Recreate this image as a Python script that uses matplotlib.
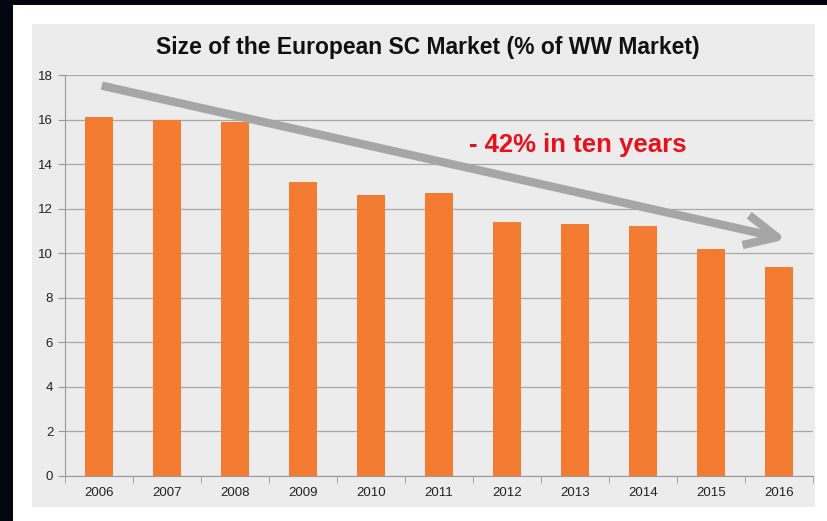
import matplotlib.pyplot as plt
from matplotlib.patches import Rectangle

years = ['2006', '2007', '2008', '2009', '2010', '2011', '2012', '2013', '2014', '2015', '2016']
share = [16.1, 16.0, 15.9, 13.2, 12.6, 12.7, 11.4, 11.3, 11.2, 10.2, 9.4]

plt.rcParams['font.family'] = ['Liberation Sans', 'DejaVu Sans']

W, H = 827, 521
fig = plt.figure(figsize=(W / 100, H / 100), dpi=100)
fig.patch.set_facecolor('#03060f')
# white slide area and gray chart panel
fig.patches.append(Rectangle((13 / W, 0), 1 - 13 / W, 1 - 5 / H, transform=fig.transFigure,
                             facecolor='white', edgecolor='none', zorder=-2))
fig.patches.append(Rectangle((32 / W, 14 / H), 783 / W, 483 / H, transform=fig.transFigure,
                             facecolor='#ececec', edgecolor='none', zorder=-1))

ax = fig.add_axes([65 / W, (H - 476) / H, 748 / W, 401 / H])
ax.set_facecolor('#ececec')
x = list(range(len(years)))
ax.bar(x, share, width=0.4, color='#f47b32', zorder=2)

ax.set_xlim(-0.5, len(years) - 0.5)
ax.set_ylim(0, 18)
ax.set_yticks(range(0, 19, 2))
ax.set_xticks(x)
ax.set_xticklabels(years)
ax.set_xticks([i + 0.5 for i in range(-1, len(years))], minor=True)
ax.tick_params(axis='x', which='major', length=0, labelsize=9.5, pad=8, colors='#222222')
ax.tick_params(axis='x', which='minor', length=5, color='#999999')
ax.tick_params(axis='y', length=5, color='#999999', labelsize=9.5, labelcolor='#222222')
ax.grid(axis='y', color='#a8a8a8', linewidth=0.9, zorder=0)
for s in ['top', 'right']:
    ax.spines[s].set_visible(False)
for s in ['left', 'bottom']:
    ax.spines[s].set_color('#999999')

fig.text(428 / W, 1 - 47 / H, 'Size of the European SC Market (% of WW Market)',
         ha='center', va='center', fontsize=16.5, fontweight='bold', color='#111111')

ax.annotate('', xy=(10.15, 10.6), xytext=(0.0, 17.55),
            arrowprops=dict(arrowstyle='->,head_length=2.3,head_width=1.1',
                            color='#a6a6a6', lw=6, capstyle='butt'), zorder=3)
ax.text(7.04, 14.85, '- 42% in ten years', ha='center', va='center',
        fontsize=18.5, fontweight='bold', color='#e8101a', zorder=4)

fig.savefig('out.png', dpi=100)
